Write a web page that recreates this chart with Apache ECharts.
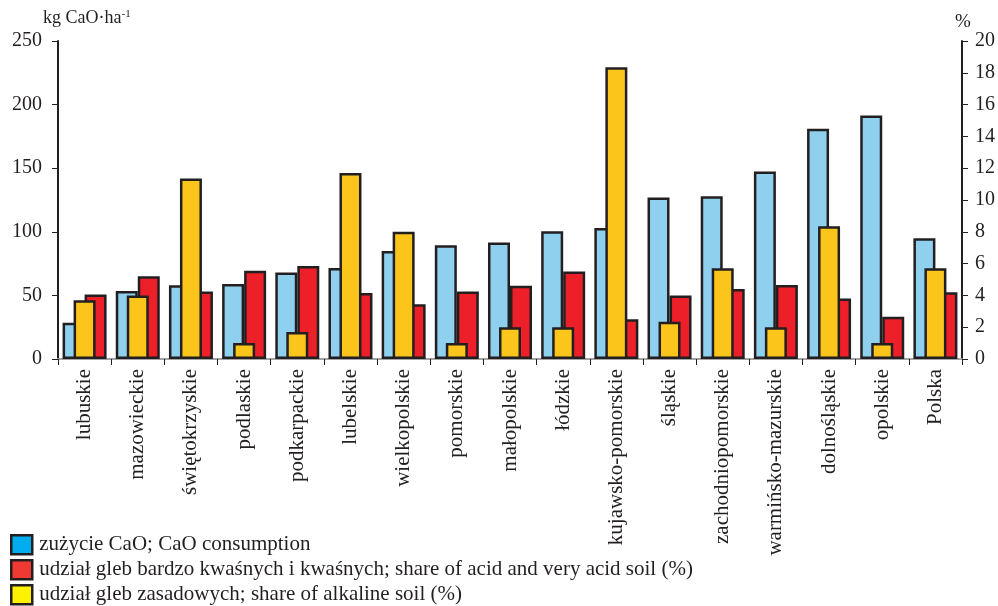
<!DOCTYPE html>
<html>
<head>
<meta charset="utf-8">
<script src="https://cdn.jsdelivr.net/npm/echarts@6/dist/echarts.min.js"></script>
<style>
  html, body { margin: 0; padding: 0; background: #fff; }
  #chart { width: 998px; height: 606px; }
</style>
</head>
<body>
<div id="chart"></div>
<script>
// Voivodeships and the national total
const regions = ['lubuskie', 'mazowieckie', 'świętokrzyskie', 'podlaskie', 'podkarpackie', 'lubelskie',
  'wielkopolskie', 'pomorskie', 'małopolskie', 'łódzkie', 'kujawsko-pomorskie', 'śląskie',
  'zachodniopomorskie', 'warmińsko-mazurskie', 'dolnośląskie', 'opolskie', 'Polska'];

// CaO consumption, kg CaO per ha (left axis)
const caoConsumption = [28.5, 53.5, 58, 59, 68, 71.5, 85, 89.5, 91.5, 100.5, 103, 127, 128, 147.5, 181, 191.5, 95];

// Share of acid and very acid soil, % (right axis)
const acidShare = [4.05, 5.2, 4.25, 5.55, 5.85, 4.15, 3.45, 4.25, 4.6, 5.5, 2.5, 4.0, 4.4, 4.65, 3.8, 2.65, 4.2];

// Share of alkaline soil, % (right axis)
const alkalineShare = [3.7, 4.0, 11.35, 1.0, 1.7, 11.7, 8.0, 1.0, 2.0, 2.0, 18.35, 2.35, 5.7, 2.0, 8.35, 1.0, 5.7];

// Axis ticks
const leftTicks = { min: 0, max: 250, interval: 50 };
const rightTicks = { min: 0, max: 20, interval: 2 };

const names = {
  cao: 'zużycie CaO; CaO consumption',
  acid: 'udział gleb bardzo kwaśnych i kwaśnych; share of acid and very acid soil (%)',
  alk: 'udział gleb zasadowych; share of alkaline soil (%)'
};

const ink = '#231f20';
const serif = '"Liberation Serif", "DejaVu Serif", serif';

const chart = echarts.init(document.getElementById('chart'), null, { renderer: 'canvas' });

const barBase = {
  type: 'bar',
  barWidth: 22,
  barGap: '-50%',
  xAxisIndex: 0
};

// One legend row per series, stacked under the category labels
function legendRow(name, swatch, top) {
  return {
    orient: 'vertical',
    left: 10,
    top: top,
    padding: 0,
    itemWidth: 21,
    itemHeight: 19,
    icon: 'rect',
    selectedMode: false,
    textStyle: { fontFamily: serif, fontSize: 21, color: ink, padding: [0, 0, 0, 2] },
    data: [{ name: name, itemStyle: { color: swatch, borderColor: ink, borderWidth: 2.5 } }]
  };
}

chart.setOption({
  animation: false,
  backgroundColor: '#fff',
  textStyle: { fontFamily: serif, color: ink },
  grid: { left: 58, right: 35, top: 41, bottom: 247, containLabel: false },
  legend: [
    legendRow(names.cao, '#00aeef', 534),
    legendRow(names.acid, '#ef3a33', 559),
    legendRow(names.alk, '#fff200', 584)
  ],
  graphic: [
    {
      type: 'text', left: 43, top: 9,
      style: {
        text: 'kg CaO·ha{sup|-1}',
        font: '18px ' + serif,
        fill: ink,
        rich: { sup: { fontSize: 11, verticalAlign: 'top', padding: [0, 0, 8, 0], fontFamily: serif, fill: ink } }
      }
    },
    {
      type: 'text', left: 955, top: 13,
      style: { text: '%', font: '19px ' + serif, fill: ink }
    }
  ],
  xAxis: [
    {
      type: 'category',
      data: regions,
      position: 'bottom',
      axisLine: { show: true, lineStyle: { color: ink, width: 2 } },
      axisTick: { show: true, length: 6, lineStyle: { color: ink, width: 1 } },
      axisLabel: { rotate: 90, fontSize: 21, fontFamily: serif, color: ink, margin: 10 },
      splitLine: { show: false }
    },
    {
      type: 'category',
      data: regions,
      position: 'top',
      axisLine: { show: true, lineStyle: { color: '#a3a3a3', width: 2 } },
      axisTick: { show: false },
      axisLabel: { show: false },
      splitLine: { show: false }
    }
  ],
  yAxis: [
    {
      type: 'value',
      position: 'left',
      min: leftTicks.min, max: leftTicks.max, interval: leftTicks.interval,
      axisLine: { show: true, lineStyle: { color: ink, width: 2 } },
      axisTick: { show: true, length: 6, lineStyle: { color: ink, width: 1 } },
      axisLabel: { fontSize: 20, fontFamily: serif, color: ink, margin: 16 },
      splitLine: { show: false }
    },
    {
      type: 'value',
      position: 'right',
      min: rightTicks.min, max: rightTicks.max, interval: rightTicks.interval,
      axisLine: { show: true, lineStyle: { color: ink, width: 2 } },
      axisTick: { show: true, length: 6, lineStyle: { color: ink, width: 1 } },
      axisLabel: { fontSize: 20, fontFamily: serif, color: ink, margin: 13 },
      splitLine: { show: false }
    }
  ],
  series: [
    Object.assign({}, barBase, {
      name: names.cao,
      yAxisIndex: 0,
      z: 2,
      data: caoConsumption,
      itemStyle: { color: '#8fd0ee', borderColor: ink, borderWidth: 2.5 }
    }),
    Object.assign({}, barBase, {
      name: names.alk,
      yAxisIndex: 1,
      z: 4,
      data: alkalineShare,
      itemStyle: { color: '#fbc51c', borderColor: ink, borderWidth: 2.5 }
    }),
    Object.assign({}, barBase, {
      name: names.acid,
      yAxisIndex: 1,
      z: 3,
      data: acidShare,
      itemStyle: { color: '#ed1f29', borderColor: ink, borderWidth: 2.5 }
    })
  ]
});
</script>
</body>
</html>
